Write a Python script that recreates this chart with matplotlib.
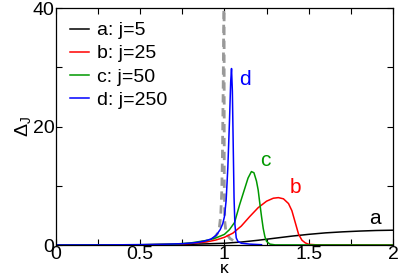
import matplotlib
matplotlib.use("Agg")
import matplotlib.pyplot as plt
from matplotlib.ticker import MultipleLocator

plt.rcParams['font.family'] = ['Liberation Sans', 'DejaVu Sans']
plt.rcParams['mathtext.fontset'] = 'custom'
plt.rcParams['mathtext.rm'] = 'Liberation Sans'
plt.rcParams['mathtext.it'] = 'Liberation Sans'
plt.rcParams['mathtext.default'] = 'regular'

# curve a: j=5
k_a = [0, 0.5, 0.8, 0.9, 1.0, 1.1, 1.2, 1.3, 1.4, 1.5, 1.6, 1.7, 1.8, 1.9, 2.0]
d_a = [0, 0.02, 0.12, 0.2, 0.3, 0.5, 0.8, 1.15, 1.5, 1.8, 2.05, 2.22, 2.35, 2.45, 2.5]

# curve b: j=25
k_b = [0, 0.5, 0.7, 0.8, 0.9, 0.95, 1.0, 1.05, 1.1, 1.15, 1.2, 1.25, 1.29, 1.32,
       1.35, 1.38, 1.4, 1.42, 1.44, 1.46, 1.48, 1.5, 1.55, 2.0]
d_b = [0, 0.03, 0.12, 0.25, 0.55, 0.85, 1.3, 2.0, 3.2, 4.8, 6.3, 7.4, 7.9, 8.0,
       7.8, 7.0, 5.8, 3.8, 1.8, 0.8, 0.35, 0.12, 0.02, 0]

# curve c: j=50
k_c = [0, 0.5, 0.7, 0.8, 0.9, 0.95, 1.0, 1.03, 1.06, 1.09, 1.12, 1.14, 1.16, 1.175,
       1.19, 1.2, 1.21, 1.22, 1.23, 1.24, 1.25, 1.27, 1.3, 2.0]
d_c = [0, 0.05, 0.15, 0.35, 0.8, 1.2, 1.8, 2.6, 3.8, 6.8, 9.5, 11.3, 12.4, 12.2,
       10.8, 9.3, 7.0, 4.8, 2.8, 1.4, 0.6, 0.15, 0.02, 0]

# curve d: j=250
k_d = [0, 0.3, 0.5, 0.65, 0.75, 0.83, 0.88, 0.92, 0.95, 0.975, 0.99, 1.0, 1.01, 1.02,
       1.03, 1.037, 1.042, 1.047, 1.052, 1.057, 1.062, 1.07, 1.08, 1.1, 1.15, 1.22]
d_d = [0, 0.02, 0.06, 0.13, 0.22, 0.4, 0.65, 1.0, 1.6, 2.6, 3.6, 4.8, 7.5, 13,
       21, 27.5, 29.8, 26, 17, 8, 3.5, 1.2, 0.6, 0.3, 0.15, 0.05]

# limiting curves (grey dashed)
k_g1 = [0.85, 0.9, 0.94, 0.96, 0.97, 0.978, 0.984, 0.988, 0.992, 0.995, 0.997]
d_g1 = [0.4, 0.7, 1.2, 2.0, 3.0, 5, 9, 15, 25, 35, 42]
k_g2 = [0.998, 0.999, 1.002, 1.008, 1.02, 1.033, 1.062]
d_g2 = [42, 10, 4, 2.4, 1.6, 1.1, 0.55]

labels = ["a: j=5", "b: j=25", "c: j=50", "d: j=250"]
colors = ["black", "red", "#009900", "blue"]

fig = plt.figure(figsize=(3.99, 2.8), dpi=100)
ax = fig.add_axes([0.140, 0.125, 0.845, 0.846])

ax.plot(k_g1, d_g1, color="#999999", lw=2, dashes=(3, 2))
ax.plot(k_g2, d_g2, color="#999999", lw=2, dashes=(3, 2))
for k, d, lab, c in zip([k_a, k_b, k_c, k_d], [d_a, d_b, d_c, d_d], labels, colors):
    ax.plot(k, d, color=c, lw=1.1, label=lab)

ax.text(1.86, 3.6, "a", color="black", fontsize=15)
ax.text(1.39, 8.7, "b", color="red", fontsize=15)
ax.text(1.21, 13.3, "c", color="#009900", fontsize=15)
ax.text(1.085, 27.0, "d", color="blue", fontsize=15)

ax.set_xlim(0, 2)
ax.set_ylim(0, 40)
ax.xaxis.set_major_locator(MultipleLocator(0.5))
ax.xaxis.set_minor_locator(MultipleLocator(0.25))
ax.yaxis.set_major_locator(MultipleLocator(20))
ax.yaxis.set_minor_locator(MultipleLocator(10))
ax.xaxis.set_major_formatter(plt.FuncFormatter(lambda v, p: f"{v:g}"))
ax.tick_params(which="both", direction="in", top=True, right=True, length=4,
               labelsize=14, pad=1, width=0.8)
for s in ax.spines.values():
    s.set_linewidth(0.9)

# x label placed just under the "1" tick label
fig.text(224 / 399, 7 / 280, "κ", fontsize=12.5, ha="center", va="baseline")
ax.set_ylabel(r"$\Delta_J$", fontsize=14, labelpad=0)

ax.legend(loc="upper left", bbox_to_anchor=(0.018, 0.975), borderaxespad=0,
          frameon=False, fontsize=14, handlelength=1.0,
          handletextpad=0.4, labelspacing=0.28)

fig.savefig("out.png", dpi=100)
